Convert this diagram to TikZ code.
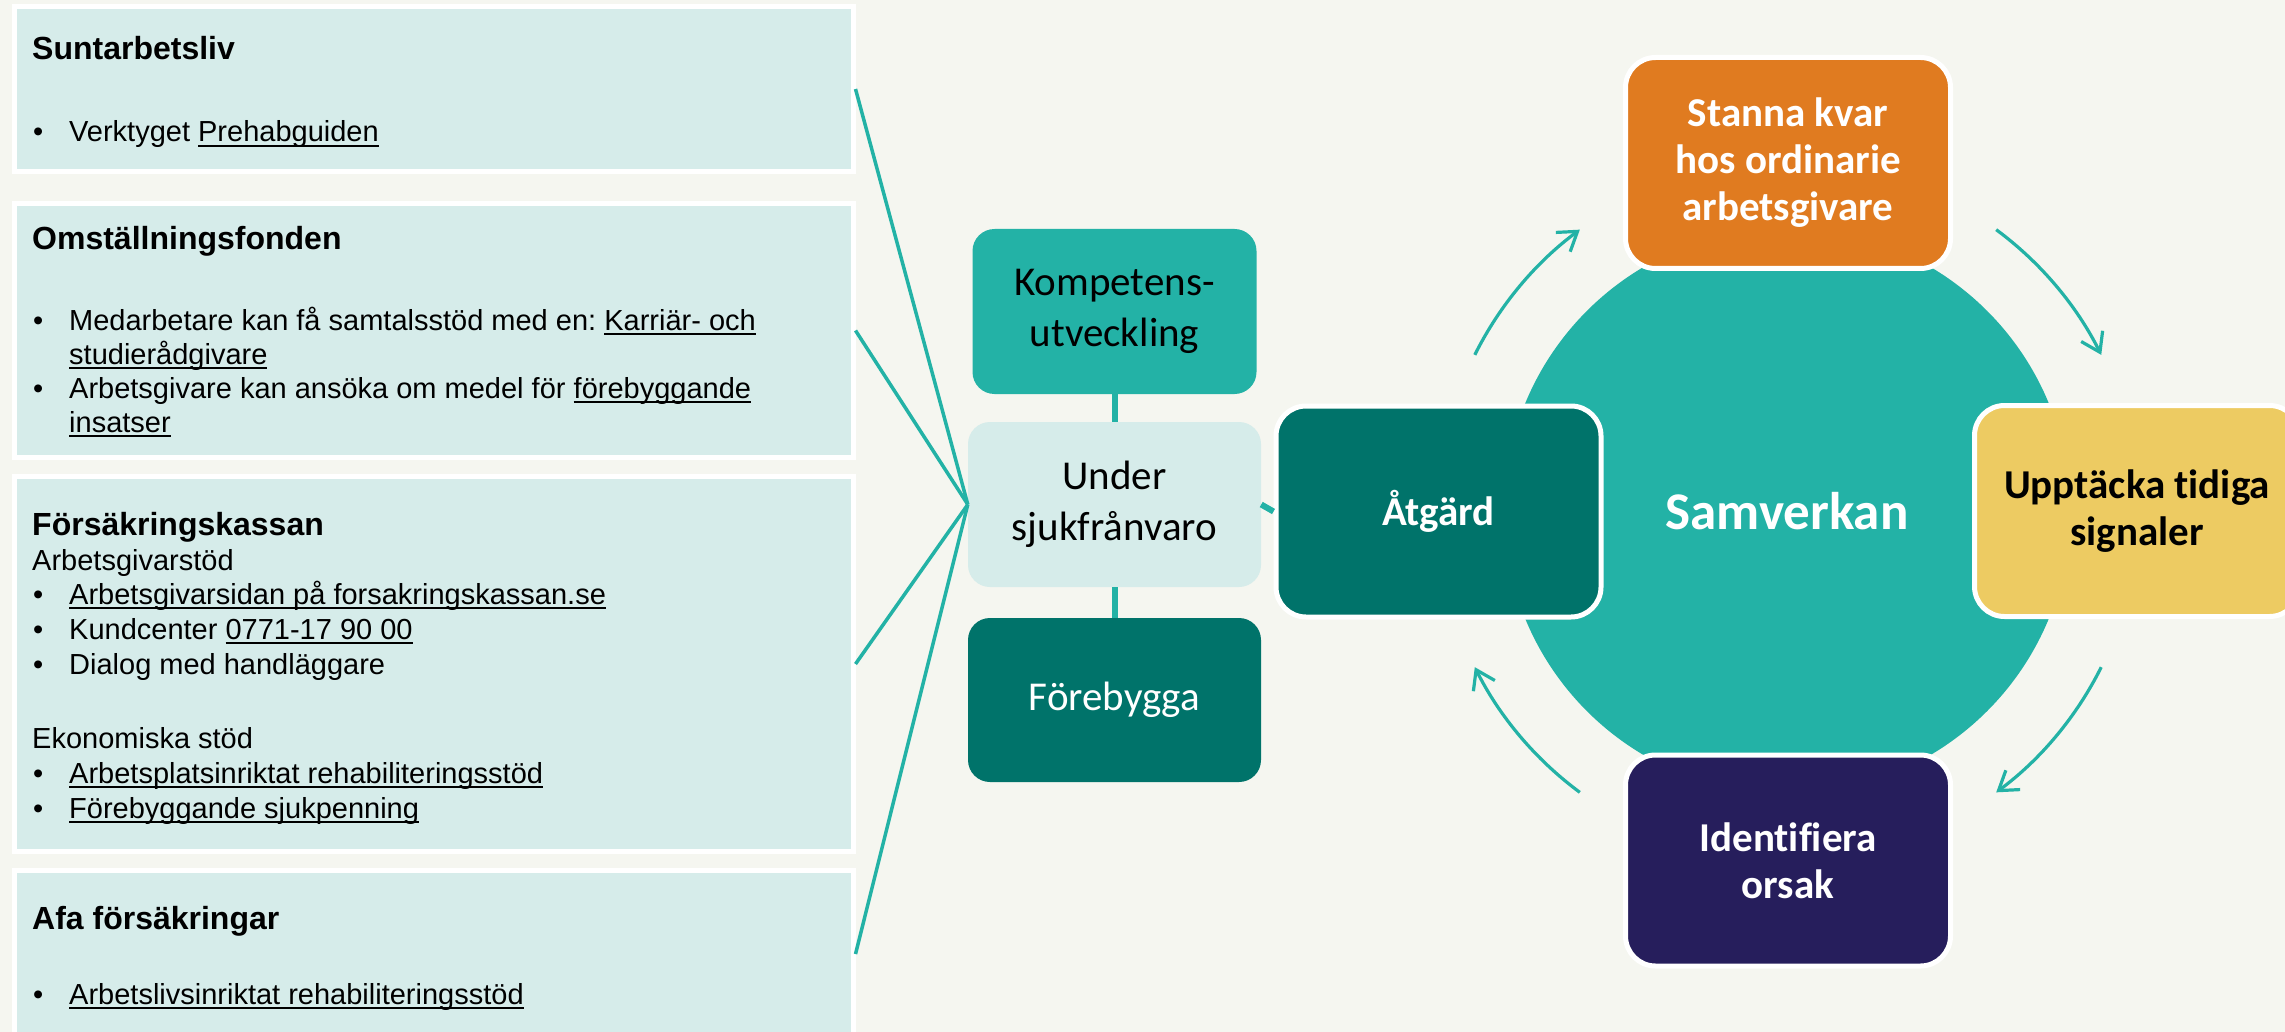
\documentclass[tikz,border=0pt]{standalone}
\usepackage{fontspec}
\setmainfont{Liberation Sans}
\newfontfamily\calfont[Ligatures=CommonOff]{Carlito}
\usetikzlibrary{arrows.meta,calc}
\definecolor{bgcol}{HTML}{F5F6F0}
\definecolor{lightteal}{HTML}{D6ECEA}
\definecolor{tealA}{HTML}{23B2A6}
\definecolor{darkteal}{HTML}{00736A}
\definecolor{orangeA}{HTML}{E07B20}
\definecolor{yellowA}{HTML}{EDCB62}
\definecolor{navyA}{HTML}{261E5C}
\newcommand{\lnk}[1]{\setbox0\hbox{#1}\rlap{\rule[-5pt]{\wd0}{2pt}}\box0}
\newcommand{\bul}{\makebox[36pt][l]{•}}
\frenchspacing
\begin{document}
\begin{tikzpicture}[x=1pt,y=1pt,
  lbox/.style={fill=lightteal, draw=white, line width=5pt, inner sep=0pt, minimum width=839pt},
  title/.style={anchor=base west, inner sep=0pt, font=\fontsize{32}{38}\selectfont\bfseries},
  body/.style={anchor=base west, inner sep=0pt, font=\fontsize{29}{35}\selectfont},
  mbox/.style={rounded corners=22pt, minimum width=293pt, minimum height=165pt, inner sep=0pt, align=center, font=\calfont\fontsize{41}{51}\selectfont},
  cbox/.style={rounded corners=30pt, draw=white, line width=5pt, minimum width=325pt, minimum height=211pt, inner sep=0pt, align=center, font=\calfont\bfseries\fontsize{41}{47}\selectfont},
  fanline/.style={draw=tealA, line width=3.5pt},
  link/.style={draw=tealA, line width=6pt},
  cyc/.style={draw=tealA, line width=3.2pt, -{Straight Barb[length=18pt,width=24pt]}}
]
\fill[bgcol] (0,0) rectangle (2285,-1032);
\useasboundingbox (0,0) rectangle (2285,-1032);

% left boxes
\node[lbox, minimum height=165pt] (bx1) at (433.5,-89) {};
\node[lbox, minimum height=254pt] (bx2) at (433.5,-330.5) {};
\node[lbox, minimum height=375pt] (bx3) at (433.5,-664) {};
\node[lbox, minimum height=167pt] (bx4) at (433.5,-954) {};

\node[title] (t1) at (32,-60) {Suntarbetsliv};
\node[body] (t1a) at (33,-142) {\bul Verktyget \lnk{Prehabguiden}};

\node[title] (t2) at (32,-250) {Omställningsfonden};
\node[body] (t2a) at (33,-330) {\bul Medarbetare kan få samtalsstöd med en: \lnk{Karriär- och}};
\node[body] (t2b) at (69,-364) {\lnk{studierådgivare}};
\node[body] (t2c) at (33,-398) {\bul Arbetsgivare kan ansöka om medel för \lnk{förebyggande}};
\node[body] (t2d) at (69,-432) {\lnk{insatser}};

\node[title] (t3) at (32,-535) {Försäkringskassan};
\node[body] (t3a) at (32,-570) {Arbetsgivarstöd};
\node[body] (t3b) at (33,-604) {\bul\lnk{Arbetsgivarsidan på forsakringskassan.se}};
\node[body] (t3c) at (33,-639) {\bul Kundcenter \lnk{0771-17 90 00}};
\node[body] (t3d) at (33,-674) {\bul Dialog med handläggare};
\node[body] (t3e) at (32,-748) {Ekonomiska stöd};
\node[body] (t3f) at (33,-783) {\bul\lnk{Arbetsplatsinriktat rehabiliteringsstöd}};
\node[body] (t3g) at (33,-818) {\bul\lnk{Förebyggande sjukpenning}};

\node[title] (t4) at (32,-929) {Afa försäkringar};
\node[body] (t4a) at (33,-1004) {\bul\lnk{Arbetslivsinriktat rehabiliteringsstöd}};

% middle boxes
\node[mbox, fill=tealA, minimum width=284pt] (komp) at (1114.5,-311.5) {Kompetens-\\utveckling};
\node[mbox, fill=lightteal] (under) at (1114.5,-504.5) {Under\\sjukfrånvaro};
\node[mbox, fill=darkteal, text=white, minimum height=164pt] (fore) at (1114.5,-700) {Förebygga};

\foreach \b in {bx1,bx2,bx3,bx4} \draw[fanline] (under.west) -- (\b.east);

% circle
\node[circle, fill=tealA, minimum size=566pt, inner sep=0pt, text=white,
      font=\calfont\bfseries\fontsize{53}{60}\selectfont] (samv) at (1787,-511) {Samverkan};

% cycle boxes
\node[cbox, fill=darkteal, text=white] (atg) at (1438.5,-511.5) {Åtgärd};
\node[cbox, fill=orangeA, text=white] (stanna) at (1788,-163) {Stanna kvar\\hos ordinarie\\arbetsgivare};
\node[cbox, fill=yellowA, text=black] (uppt) at (2137,-511) {Upptäcka tidiga\\signaler};
\node[cbox, fill=navyA, text=white] (ident) at (1788,-860.5) {Identifiera\\orsak};

\draw[link] (komp.south) -- (under.north);
\draw[link] (under.south) -- (fore.north);
\draw[link] (under.east) -- (atg.west);

% cycle arrows
\coordinate (cc) at (1788,-511);
\draw[cyc] ($(cc)+(153.5:350pt)$) arc[start angle=153.5, end angle=126.5, radius=350pt];
\draw[cyc] ($(cc)+(53.5:350pt)$) arc[start angle=53.5, end angle=26.5, radius=350pt];
\draw[cyc] ($(cc)+(-26.5:350pt)$) arc[start angle=-26.5, end angle=-53.5, radius=350pt];
\draw[cyc] ($(cc)+(-126.5:350pt)$) arc[start angle=-126.5, end angle=-153.5, radius=350pt];
\end{tikzpicture}
\end{document}
